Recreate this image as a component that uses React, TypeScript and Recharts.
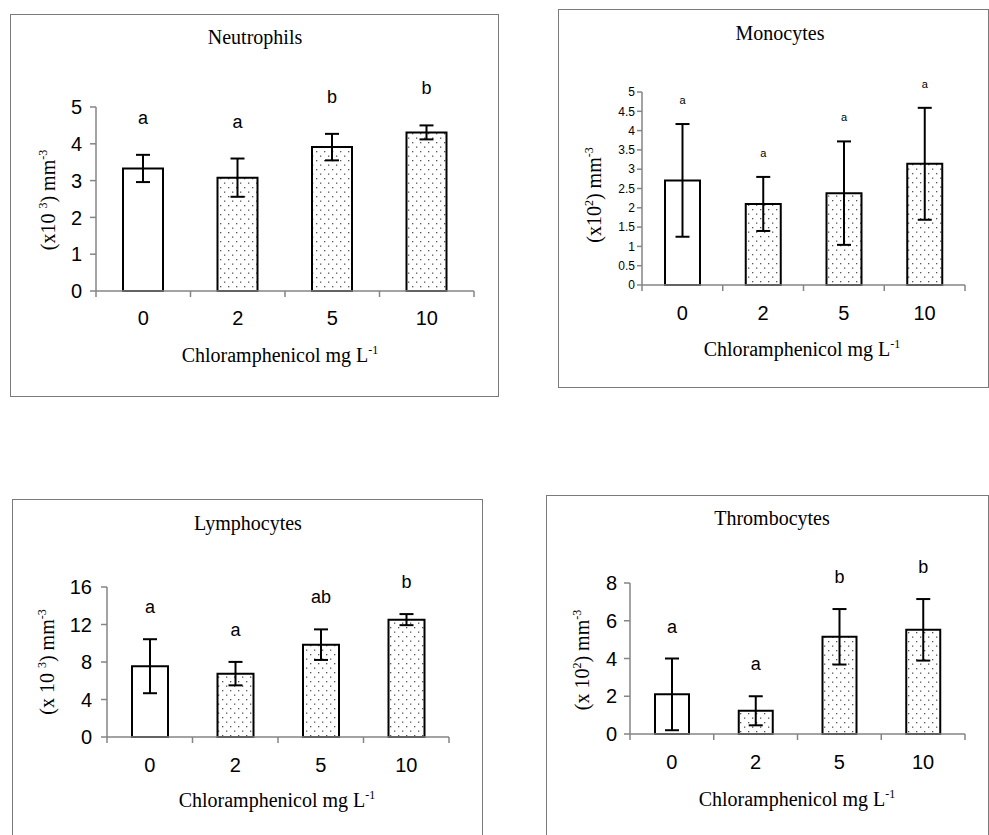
import React from "react";
import { BarChart, Bar, XAxis, YAxis, ErrorBar, LabelList, Cell } from "recharts";

// chloramphenicol doses (mg/L)
const doses = ["0", "2", "5", "10"];

const neutroMeans = [3.33, 3.08, 3.91, 4.31];
const neutroErr = [0.37, 0.52, 0.36, 0.19];
const neutroLetters = ["a", "a", "b", "b"];
const neutroTicks = [0, 1, 2, 3, 4, 5];

const monoMeans = [2.71, 2.1, 2.38, 3.14];
const monoErr = [1.46, 0.7, 1.34, 1.45];
const monoLetters = ["a", "a", "a", "a"];
const monoTicks = [0, 0.5, 1, 1.5, 2, 2.5, 3, 3.5, 4, 4.5, 5];

const lymphoMeans = [7.55, 6.76, 9.85, 12.52];
const lymphoErr = [2.88, 1.25, 1.63, 0.59];
const lymphoLetters = ["a", "a", "ab", "b"];
const lymphoTicks = [0, 4, 8, 12, 16];

const thromboMeans = [2.1, 1.23, 5.15, 5.52];
const thromboErr = [1.9, 0.77, 1.47, 1.63];
const thromboLetters = ["a", "a", "b", "b"];
const thromboTicks = [0, 2, 4, 6, 8];

const SERIF = "'Liberation Serif', 'Times New Roman', serif";
const SANS = "'Liberation Sans', Arial, sans-serif";
const AXIS_GREY = "#858585";
const BORDER = "#7a7a7a";
const Y_AXIS_W = 40;
const X_AXIS_H = 40;

const Sup = ({ children }: { children: React.ReactNode }) => (
  <span style={{ fontSize: "0.6em", verticalAlign: "0.7em", lineHeight: 0 }}>{children}</span>
);

const XLabel = () => (
  <span>
    Chloramphenicol mg L<Sup>-1</Sup>
  </span>
);

type PanelCfg = {
  title: string;
  yLabel: React.ReactNode;
  means: number[];
  err: number[];
  letters: string[];
  ticks: number[];
  box: [number, number, number, number];
  margin: { top: number; right: number; bottom: number; left: number };
  barSize: number;
  yTickFont: number;
  yTickSize: number;
  yTickMargin: number;
  xTickGap: number;
  letterFont: number;
  letterGap: number;
  titleAt: [number, number];
  xLabelAt: [number, number];
  yLabelAt: [number, number];
};

const panels: PanelCfg[] = [
  {
    title: "Neutrophils",
    yLabel: (
      <span>
        (x10 <Sup>3</Sup>) mm<Sup>-3</Sup>
      </span>
    ),
    means: neutroMeans,
    err: neutroErr,
    letters: neutroLetters,
    ticks: neutroTicks,
    box: [10, 14, 489, 383],
    margin: { top: 93, right: 25, bottom: 66, left: 46 },
    barSize: 40,
    yTickFont: 20,
    yTickSize: 6,
    yTickMargin: 8,
    xTickGap: 27,
    letterFont: 18,
    letterGap: 37,
    titleAt: [245, 23],
    xLabelAt: [270, 341],
    yLabelAt: [38, 186],
  },
  {
    title: "Monocytes",
    yLabel: (
      <span>
        (x10<Sup>2</Sup>) mm<Sup>-3</Sup>
      </span>
    ),
    means: monoMeans,
    err: monoErr,
    letters: monoLetters,
    ticks: monoTicks,
    box: [558, 9, 431, 379],
    margin: { top: 83, right: 24, bottom: 63, left: 44 },
    barSize: 35,
    yTickFont: 12,
    yTickSize: 5,
    yTickMargin: 2,
    xTickGap: 28,
    letterFont: 11,
    letterGap: 24,
    titleAt: [222, 24],
    xLabelAt: [244, 340],
    yLabelAt: [36, 186],
  },
  {
    title: "Lymphocytes",
    yLabel: (
      <span>
        (x 10 <Sup>3</Sup>) mm<Sup>-3</Sup>
      </span>
    ),
    means: lymphoMeans,
    err: lymphoErr,
    letters: lymphoLetters,
    ticks: lymphoTicks,
    box: [12, 499, 471, 345],
    margin: { top: 88, right: 34, bottom: 67, left: 55 },
    barSize: 36,
    yTickFont: 20,
    yTickSize: 6,
    yTickMargin: 9,
    xTickGap: 28,
    letterFont: 18,
    letterGap: 32,
    titleAt: [236, 24],
    xLabelAt: [265, 301],
    yLabelAt: [35, 163],
  },
  {
    title: "Thrombocytes",
    yLabel: (
      <span>
        (x 10<Sup>2</Sup>) mm<Sup>-3</Sup>
      </span>
    ),
    means: thromboMeans,
    err: thromboErr,
    letters: thromboLetters,
    ticks: thromboTicks,
    box: [546, 495, 443, 345],
    margin: { top: 88, right: 24, bottom: 66, left: 44 },
    barSize: 34,
    yTickFont: 20,
    yTickSize: 6,
    yTickMargin: 7,
    xTickGap: 28,
    letterFont: 18,
    letterGap: 32,
    titleAt: [226, 23],
    xLabelAt: [251, 304],
    yLabelAt: [36, 165],
  },
];

function centered(at: [number, number], extra: React.CSSProperties = {}): React.CSSProperties {
  return {
    position: "absolute",
    left: at[0],
    top: at[1],
    transform: "translate(-50%, -50%)",
    whiteSpace: "nowrap",
    lineHeight: 1,
    fontFamily: SERIF,
    fontSize: 20,
    color: "#000",
    ...extra,
  };
}

function Panel({ cfg }: { cfg: PanelCfg }) {
  const [left, top, width, height] = cfg.box;
  const data = doses.map((d, i) => ({
    dose: d,
    mean: cfg.means[i],
    err: cfg.err[i],
    letter: cfg.letters[i],
  }));
  const top0 = cfg.ticks[cfg.ticks.length - 1];
  const plotW = width - cfg.margin.left - cfg.margin.right - Y_AXIS_W;
  const band = plotW / doses.length;
  const axisY = height - cfg.margin.bottom - X_AXIS_H;

  // tick marks sit between categories, like the original Excel chart
  const renderXTick = (p: any) => {
    const last = p.index === doses.length - 1;
    return (
      <g>
        <line x1={p.x - band / 2} x2={p.x - band / 2} y1={axisY} y2={axisY + 6} stroke={AXIS_GREY} strokeWidth={1.5} />
        {last && (
          <line x1={p.x + band / 2} x2={p.x + band / 2} y1={axisY} y2={axisY + 6} stroke={AXIS_GREY} strokeWidth={1.5} />
        )}
        <text
          x={p.x}
          y={axisY + cfg.xTickGap}
          textAnchor="middle"
          dominantBaseline="central"
          style={{ fontFamily: SANS, fontSize: 20, fill: "#000" }}
        >
          {p.payload.value}
        </text>
      </g>
    );
  };

  // significance letter sits a fixed gap above the top whisker
  const renderLetter = (p: any) => {
    const i = p.index;
    const pxPerUnit = p.height / cfg.means[i];
    const whiskerTop = p.y - cfg.err[i] * pxPerUnit;
    return (
      <text
        x={p.x + p.width / 2}
        y={whiskerTop - cfg.letterGap}
        textAnchor="middle"
        dominantBaseline="central"
        style={{ fontFamily: SANS, fontSize: cfg.letterFont, fill: "#000" }}
      >
        {p.value}
      </text>
    );
  };

  return (
    <div style={{ position: "absolute", left, top, width, height }}>
      <div
        style={{
          position: "absolute",
          inset: 0,
          border: `1px solid ${BORDER}`,
          boxSizing: "border-box",
        }}
      />
      <div style={{ position: "absolute", left: 0, top: 0 }}>
        <BarChart width={width} height={height} data={data} margin={cfg.margin}>
          <XAxis
            dataKey="dose"
            height={X_AXIS_H}
            interval={0}
            axisLine={{ stroke: AXIS_GREY, strokeWidth: 1.5 }}
            tickLine={false}
            tick={renderXTick}
          />
          <YAxis
            domain={[0, top0]}
            ticks={cfg.ticks}
            interval={0}
            width={Y_AXIS_W}
            tickSize={cfg.yTickSize}
            tickMargin={cfg.yTickMargin}
            axisLine={{ stroke: AXIS_GREY, strokeWidth: 1.5 }}
            tickLine={{ stroke: AXIS_GREY, strokeWidth: 1.5 }}
            tick={{ fill: "#000", fontSize: cfg.yTickFont, fontFamily: SANS }}
          />
          <Bar
            dataKey="mean"
            barSize={cfg.barSize}
            stroke="#000"
            strokeWidth={2}
            isAnimationActive={false}
          >
            {data.map((_, i) => (
              <Cell key={i} fill={i === 0 ? "#ffffff" : "url(#dots)"} />
            ))}
            <ErrorBar dataKey="err" width={7} stroke="#000" strokeWidth={2} direction="y" />
            <LabelList dataKey="letter" content={renderLetter} />
          </Bar>
        </BarChart>
      </div>
      <div style={centered(cfg.titleAt)}>{cfg.title}</div>
      <div style={centered(cfg.xLabelAt)}>
        <XLabel />
      </div>
      <div style={centered(cfg.yLabelAt, { transform: "translate(-50%, -50%) rotate(-90deg)" })}>
        {cfg.yLabel}
      </div>
    </div>
  );
}

export default function App() {
  return (
    <div
      style={{
        position: "absolute",
        left: 0,
        top: 0,
        width: 989,
        height: 835,
        overflow: "hidden",
        background: "#fff",
      }}
    >
      <svg width={0} height={0} style={{ position: "absolute" }}>
        <defs>
          <pattern id="dots" width={8} height={9} patternUnits="userSpaceOnUse">
            <rect width={8} height={9} fill="#fff" />
            <rect x={2} y={2} width={1.3} height={1.3} fill="#555" />
            <rect x={6} y={6.5} width={1.3} height={1.3} fill="#555" />
          </pattern>
        </defs>
      </svg>
      {panels.map((p) => (
        <Panel key={p.title} cfg={p} />
      ))}
    </div>
  );
}
